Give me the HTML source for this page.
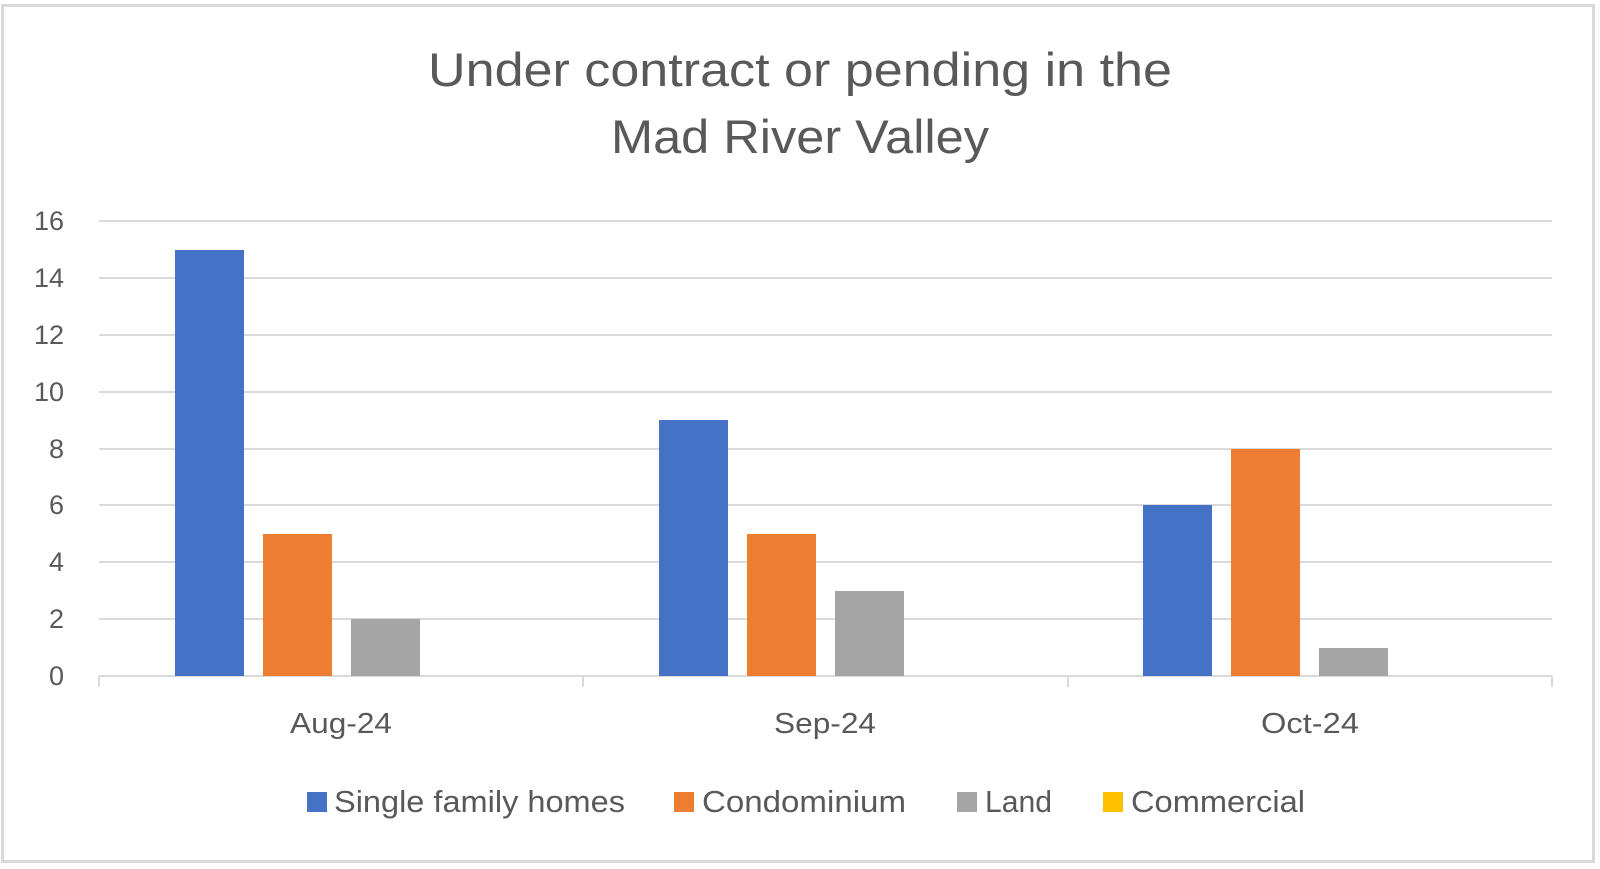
<!DOCTYPE html>
<html><head><meta charset="utf-8"><style>
body{margin:0;background:#fff;}
svg text{font-family:"Liberation Sans",sans-serif;fill:#595959;}
</style></head><body>
<svg width="1600" height="864" xmlns="http://www.w3.org/2000/svg">
<rect x="2.5" y="5.5" width="1591" height="856" fill="#fff" stroke="#d9d9d9" stroke-width="3"/>
<text x="800" y="86" font-size="47" text-anchor="middle" textLength="744" lengthAdjust="spacingAndGlyphs">Under contract or pending in the</text>
<text x="800" y="153" font-size="47" text-anchor="middle" textLength="378" lengthAdjust="spacingAndGlyphs">Mad River Valley</text>
<g stroke="#d9d9d9" stroke-width="2">
<line x1="99" x2="1552" y1="221" y2="221"/>
<line x1="99" x2="1552" y1="278" y2="278"/>
<line x1="99" x2="1552" y1="335" y2="335"/>
<line x1="99" x2="1552" y1="392" y2="392"/>
<line x1="99" x2="1552" y1="449" y2="449"/>
<line x1="99" x2="1552" y1="505" y2="505"/>
<line x1="99" x2="1552" y1="562" y2="562"/>
<line x1="99" x2="1552" y1="619" y2="619"/>
<line x1="99" x2="1552" y1="676" y2="676"/>
<line x1="99" x2="99" y1="676" y2="687"/>
<line x1="583" x2="583" y1="676" y2="687"/>
<line x1="1068" x2="1068" y1="676" y2="687"/>
<line x1="1552" x2="1552" y1="676" y2="687"/>
</g>
<g font-size="27" text-anchor="end">
<text x="64" y="230">16</text><text x="64" y="287">14</text><text x="64" y="344">12</text>
<text x="64" y="401">10</text><text x="64" y="458">8</text><text x="64" y="514">6</text>
<text x="64" y="571">4</text><text x="64" y="628">2</text><text x="64" y="685">0</text>
</g>
<rect x="175" y="250" width="69" height="426" fill="#4472c4"/>
<rect x="263" y="534" width="69" height="142" fill="#ed7d31"/>
<rect x="351" y="619" width="69" height="57" fill="#a5a5a5"/>
<rect x="659" y="420" width="69" height="256" fill="#4472c4"/>
<rect x="747" y="534" width="69" height="142" fill="#ed7d31"/>
<rect x="835" y="591" width="69" height="85" fill="#a5a5a5"/>
<rect x="1143" y="505" width="69" height="171" fill="#4472c4"/>
<rect x="1231" y="449" width="69" height="227" fill="#ed7d31"/>
<rect x="1319" y="648" width="69" height="28" fill="#a5a5a5"/>
<g font-size="29" text-anchor="middle">
<text x="341" y="733" textLength="102" lengthAdjust="spacingAndGlyphs">Aug-24</text>
<text x="825" y="733" textLength="102" lengthAdjust="spacingAndGlyphs">Sep-24</text>
<text x="1310" y="733" textLength="98" lengthAdjust="spacingAndGlyphs">Oct-24</text>
</g>
<g font-size="31">
<rect x="307" y="792" width="20" height="20" fill="#4472c4"/><text x="334" y="812" textLength="291" lengthAdjust="spacingAndGlyphs">Single family homes</text>
<rect x="674" y="792" width="20" height="20" fill="#ed7d31"/><text x="702" y="812" textLength="204" lengthAdjust="spacingAndGlyphs">Condominium</text>
<rect x="957" y="792" width="20" height="20" fill="#a5a5a5"/><text x="985" y="812" textLength="67" lengthAdjust="spacingAndGlyphs">Land</text>
<rect x="1103" y="792" width="20" height="20" fill="#ffc000"/><text x="1131" y="812" textLength="174" lengthAdjust="spacingAndGlyphs">Commercial</text>
</g>
</svg>
</body></html>
